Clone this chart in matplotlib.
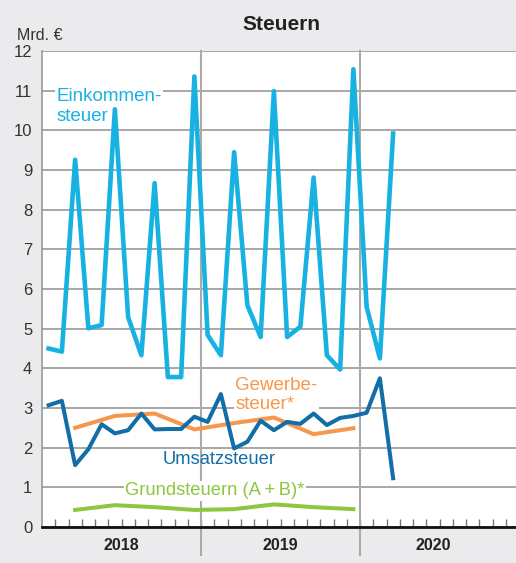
import numpy as np
import matplotlib
matplotlib.use("Agg")
import matplotlib.pyplot as plt
import matplotlib.transforms as mtransforms
from matplotlib.lines import Line2D

plt.rcParams["font.family"] = ["Liberation Sans", "DejaVu Sans"]

# ── Data (Mrd. €, monthly from Jan 2018, quarterly values at quarter end) ─────
years = ["2018", "2019", "2020"]
yticks = list(range(0, 13))

einkommen = [4.50, 4.42, 9.26, 5.01, 5.09, 10.53, 5.29, 4.33, 8.67, 3.78, 3.78, 11.36,
             4.84, 4.33, 9.45, 5.59, 4.79, 10.99, 4.79, 5.05, 8.81, 4.33, 3.97, 11.54,
             5.55, 4.25, 9.92]
umsatz = [3.07, 3.18, 1.56, 1.96, 2.59, 2.36, 2.44, 2.86, 2.46, 2.47, 2.47, 2.78,
          2.65, 3.35, 1.98, 2.15, 2.68, 2.44, 2.65, 2.60, 2.86, 2.57, 2.75, 2.80,
          2.88, 3.75, 1.23]
gewerbe = [2.50, 2.80, 2.86, 2.46, 2.62, 2.76, 2.34, 2.49]
grund = [0.43, 0.55, 0.50, 0.43, 0.45, 0.57, 0.50, 0.45]

C_EINK = "#17b1e2"
C_UMS = "#126ea6"
C_GEW = "#f7974c"
C_GRUND = "#8dc63f"
BG = "#ebebed"
GRID = "#a0a0a0"

x_month = np.arange(len(einkommen)) + 0.5
x_quarter = np.arange(len(gewerbe)) * 3 + 2.5

fig = plt.figure(figsize=(5.16, 5.63), dpi=100, facecolor=BG)
ax = fig.add_axes([42 / 516, 1 - 527 / 563, 1 - 42 / 516, (527 - 51) / 563])
ax.set_facecolor("white")
ax.set_xlim(0, 474 / 13.25)
ax.set_ylim(0, 12)

# grid
ax.set_yticks(yticks)
ax.yaxis.grid(True, color=GRID, linewidth=1.3)
ax.set_axisbelow(True)
ax.tick_params(axis="y", length=0, pad=7, labelsize=12, labelcolor="#333333")

# month ticks on the base line
ax.set_xticks(np.arange(1, 36))
ax.set_xticklabels([])
ax.tick_params(axis="x", direction="in", length=6, width=1, color="#777777")

for side in ["top", "right"]:
    ax.spines[side].set_visible(False)
ax.spines["left"].set_color("#999999")
ax.spines["left"].set_linewidth(1.2)
ax.spines["bottom"].set_color("#111111")
ax.spines["bottom"].set_linewidth(2)
ax.spines["bottom"].set_zorder(5)

# year separators reaching into the label band
trans = mtransforms.blended_transform_factory(ax.transData, ax.transAxes)
for xb in (12, 24):
    ax.add_line(Line2D([xb, xb], [1, -0.059], transform=trans, color="#aaaaaa",
                       linewidth=1.5, clip_on=False, zorder=1))

# series
ax.plot(x_month, einkommen, color=C_EINK, linewidth=3.3, zorder=3)
ax.plot(x_month, umsatz, color=C_UMS, linewidth=2.9, zorder=4)
ax.plot(x_quarter, gewerbe, color=C_GEW, linewidth=2.9, zorder=3)
ax.plot(x_quarter, grund, color=C_GRUND, linewidth=2.9, zorder=3)

# labels
box = dict(facecolor="white", edgecolor="none", pad=1)
ax.text(1.1, 10.6, "Einkommen-\nsteuer", color=C_EINK, fontsize=13.5,
        ha="left", va="center", linespacing=1.2, bbox=box, zorder=2)
ax.text(14.6, 3.32, "Gewerbe-\nsteuer*", color=C_GEW, fontsize=13.5,
        ha="left", va="center", linespacing=1.15, bbox=box, zorder=2)
ax.text(13.35, 1.69, "Umsatzsteuer", color=C_UMS, fontsize=13.2,
        ha="center", va="center", zorder=2)
ax.text(13.05, 0.91, "Grundsteuern (A\u2009+\u2009B)*", color=C_GRUND, fontsize=13.2,
        ha="center", va="center", bbox=box, zorder=2)

# year labels
for i, yr in enumerate(years):
    xc = 6 + 12 * i if i < 2 else 29.5
    ax.text(xc, -0.039, yr, transform=trans, ha="center", va="center",
            fontsize=11.5, fontweight="bold", color="#222222")

fig.text(281 / 516, 1 - 25 / 563, "Steuern", ha="center", va="center",
         fontsize=15, fontweight="bold", color="#222222")
fig.text(17 / 516, 1 - 35 / 563, "Mrd. €", ha="left", va="center",
         fontsize=11.5, color="#333333")

fig.savefig("out.png", dpi=100, facecolor=BG)
